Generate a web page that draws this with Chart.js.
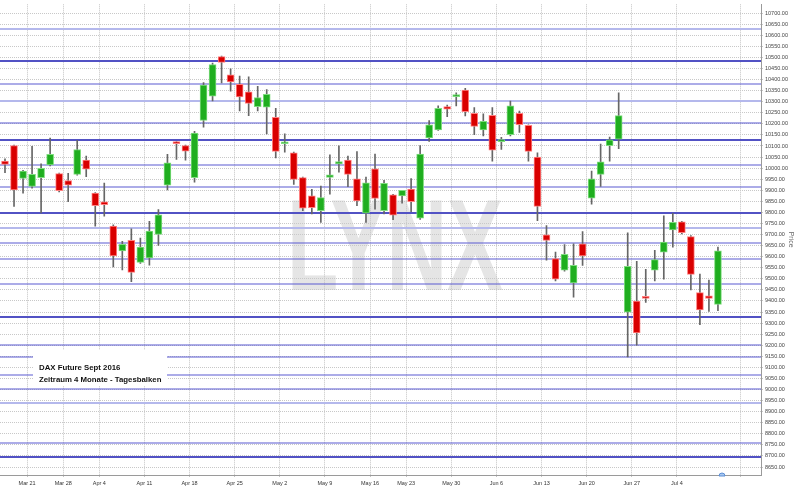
<!DOCTYPE html>
<html>
<head>
<meta charset="utf-8">
<script src="https://cdn.jsdelivr.net/npm/chart.js@4.4.1/dist/chart.umd.min.js"></script>
<style>
    body { margin: 0; background: #fff; }
    #wrap { width: 800px; height: 486px; }
</style>
</head>
<body>
<div id="wrap"><canvas id="daxChart" width="800" height="486"></canvas></div>
<script>
// DAX Future Sept 2016, daily bars, Mar 16 - Jul 8 2016
const open  = [10032, 10102, 9953, 9917, 9957, 10015, 9975, 9944, 9972, 10036,
               9887, 9848, 9738, 9626, 9674, 9574, 9595, 9701, 9923, 10118,
               10102, 9957, 10215, 10325, 10504, 10422, 10379, 10345, 10278, 10275,
               10230, 10110, 10069, 9957, 9875, 9808, 9958, 10019, 10036, 9952,
               9797, 9997, 9808, 9879, 9875, 9905, 9774, 10136, 10173, 10278,
               10323, 10352, 10248, 10173, 10238, 10120, 10151, 10248, 10193, 10050,
               9699, 9591, 9539, 9482, 9658, 9864, 9972, 10102, 10131, 9349,
               9400, 9418, 9539, 9621, 9721, 9758, 9691, 9438, 9423, 9385];
const high  = [10042, 10104, 9990, 10099, 10020, 10136, 9978, 9977, 10126, 10054,
               9890, 9932, 9744, 9669, 9726, 9684, 9760, 9813, 10062, 10120,
               10104, 10166, 10386, 10474, 10506, 10449, 10416, 10412, 10370, 10355,
               10270, 10155, 10072, 9960, 9904, 9919, 10060, 10101, 10054, 10075,
               9960, 10064, 9945, 9882, 9900, 9953, 10102, 10215, 10281, 10285,
               10340, 10360, 10273, 10245, 10273, 10139, 10303, 10258, 10196, 10069,
               9740, 9621, 9655, 9658, 9714, 9987, 10109, 10140, 10340, 9708,
               9579, 9543, 9629, 9785, 9796, 9760, 9695, 9521, 9494, 9644];
const low   = [9980, 9827, 9887, 9910, 9798, 10010, 9893, 9848, 9968, 9962,
               9738, 9783, 9554, 9540, 9487, 9570, 9562, 9651, 9902, 10039,
               10036, 9937, 10185, 10304, 10385, 10348, 10258, 10237, 10258, 10155,
               10046, 10072, 9927, 9808, 9793, 9755, 9882, 9982, 9916, 9830,
               9755, 9815, 9793, 9767, 9842, 9803, 9768, 10121, 10170, 10233,
               10281, 10236, 10151, 10146, 10032, 10084, 10146, 10161, 10032, 9763,
               9584, 9491, 9535, 9417, 9561, 9837, 9917, 10031, 10088, 9147,
               9200, 9394, 9491, 9499, 9643, 9703, 9450, 9293, 9353, 9356];
const close = [10017, 9902, 9987, 9972, 9999, 10062, 9898, 9923, 10084, 9995,
               9830, 9835, 9604, 9656, 9529, 9644, 9716, 9789, 10024, 10111,
               10077, 10158, 10375, 10468, 10477, 10389, 10322, 10292, 10319, 10333,
               10076, 10116, 9949, 9819, 9822, 9867, 9970, 10030, 9972, 9852,
               9934, 9863, 9931, 9788, 9900, 9848, 10064, 10196, 10270, 10266,
               10330, 10255, 10188, 10211, 10081, 10124, 10281, 10196, 10076, 9827,
               9673, 9499, 9611, 9561, 9603, 9952, 10028, 10128, 10237, 9557,
               9256, 9412, 9587, 9666, 9755, 9708, 9520, 9360, 9412, 9626];

// first trading day of each week (bar index) and its label
const weekStart  = [3, 7, 11, 16, 21, 26, 31, 36, 41, 45, 50, 55, 60, 65, 70, 75, 82];
const weekLabels = ['Mar 21', 'Mar 28', 'Apr 4', 'Apr 11', 'Apr 18', 'Apr 25', 'May 2', 'May 9',
                    'May 16', 'May 23', 'May 30', 'Jun 6', 'Jun 13', 'Jun 20', 'Jun 27', 'Jul 4', ''];

// price axis
const priceMin = 8614, priceMax = 10740;
const priceTickFirst = 8650, priceTickLast = 10700, priceTickStep = 50;

// horizontal support / resistance lines
const levelsStrong = [10485, 10127, 9796, 9326, 8695];
const levelsNormal = [10378, 10203, 10015, 9917, 9662, 9590, 9478, 9200, 9147, 9066, 9004, 8757];
const levelsLight  = [10628, 10302, 9729, 8937];

const bodies = open.map((o, i) => ({ x: i, y: [o, close[i]] }));
const wicks = low.map((l, i) => ({ x: i, y: [l, high[i]] }));
const up = open.map((o, i) => close[i] >= o);

const bgPlugin = {
    id: 'bg',
    beforeDraw(chart) {
        const ctx = chart.ctx;
        ctx.save();
        ctx.fillStyle = '#fff';
        ctx.fillRect(0, 0, chart.width, chart.height);
        // LYNX watermark
        ctx.fillStyle = '#e5e5e5';
        ctx.font = 'bold 130px "Liberation Sans", Arial, sans-serif';
        const w = ctx.measureText('LYNX').width;
        ctx.translate(287, 290);
        ctx.scale(216 / w, 1);
        ctx.textBaseline = 'alphabetic';
        ctx.fillText('LYNX', 0, 0);
        ctx.restore();
    }
};

const levelPlugin = {
    id: 'levels',
    beforeDatasetsDraw(chart) {
        const ctx = chart.ctx;
        const area = chart.chartArea;
        const y = chart.scales.y;
        const drawSet = (list, color, width) => {
            ctx.strokeStyle = color;
            ctx.lineWidth = width;
            list.forEach(v => {
                const py = Math.round(y.getPixelForValue(v));
                ctx.beginPath();
                ctx.moveTo(area.left, py);
                ctx.lineTo(area.right, py);
                ctx.stroke();
            });
        };
        ctx.save();
        drawSet(levelsLight, '#b4b8ec', 2);
        drawSet(levelsNormal, '#5a5ad2', 1.2);
        drawSet(levelsStrong, '#5252c4', 2);
        ctx.restore();
    },
    afterDatasetsDraw(chart) {
        const ctx = chart.ctx;
        ctx.save();
        // info box
        ctx.fillStyle = '#fff';
        ctx.fillRect(33, 350, 134, 36);
        ctx.fillStyle = '#111';
        ctx.font = 'bold 7.8px "Liberation Sans", Arial, sans-serif';
        ctx.textBaseline = 'alphabetic';
        ctx.fillText('DAX Future Sept 2016', 39, 369.5);
        ctx.fillText('Zeitraum 4 Monate - Tagesbalken', 39, 381.5);
        // small marker icon
        ctx.beginPath();
        ctx.arc(722, 476, 3, Math.PI, 0);
        ctx.closePath();
        ctx.fillStyle = '#a9c8ef';
        ctx.fill();
        ctx.strokeStyle = '#5d8fd6';
        ctx.lineWidth = 1;
        ctx.stroke();
        ctx.restore();
    }
};

document.addEventListener('DOMContentLoaded', () => {
    const ctx = document.getElementById('daxChart').getContext('2d');
    new Chart(ctx, {
        type: 'bar',
        data: {
            datasets: [{
                label: 'Body',
                data: bodies,
                grouped: false,
                barThickness: 7,
                minBarLength: 2,
                borderWidth: 1,
                borderSkipped: false,
                backgroundColor: up.map(u => u ? '#1fae1f' : '#d90000'),
                borderColor: up.map(u => u ? '#7fdc7f' : '#ff8080')
            }, {
                label: 'Wick',
                data: wicks,
                grouped: false,
                barThickness: 1,
                backgroundColor: '#666666',
                borderWidth: 0
            }]
        },
        options: {
            responsive: false,
            animation: false,
            devicePixelRatio: 1,
            layout: { padding: 0 },
            plugins: {
                legend: { display: false },
                tooltip: { enabled: false }
            },
            scales: {
                x: {
                    type: 'linear',
                    offset: false,
                    min: -0.554,
                    max: 83.77,
                    afterBuildTicks: scale => {
                        scale.ticks = weekStart.map(v => ({ value: v - 0.55 }));
                    },
                    afterFit: scale => { scale.height = 11; },
                    ticks: {
                        autoSkip: false,
                        maxRotation: 0,
                        padding: 2,
                        color: '#333',
                        font: { size: 5.5, family: '"Liberation Sans", Arial, sans-serif' },
                        callback: (value, index) => weekLabels[index]
                    },
                    grid: { offset: false, color: '#c4c4c4', tickLength: 3, tickBorderDash: [1, 1] },
                    border: { color: '#9a9a9a', dash: [1, 1] }
                },
                y: {
                    type: 'linear',
                    position: 'right',
                    min: priceMin,
                    max: priceMax,
                    afterBuildTicks: scale => {
                        const t = [];
                        for (let v = priceTickFirst; v <= priceTickLast; v += priceTickStep) t.push({ value: v });
                        scale.ticks = t;
                    },
                    afterFit: scale => { scale.width = 39; },
                    ticks: {
                        autoSkip: false,
                        padding: 1,
                        color: '#444',
                        font: { size: 5.5, family: '"Liberation Sans", Arial, sans-serif' },
                        callback: value => value.toFixed(2)
                    },
                    grid: { color: '#c8c8c8', tickLength: 3, tickBorderDash: [1, 1] },
                    border: { color: '#9a9a9a', dash: [1, 1] },
                    title: {
                        display: true,
                        text: 'Price',
                        color: '#666',
                        padding: { top: 5 },
                        font: { size: 7, family: '"Liberation Sans", Arial, sans-serif' }
                    }
                }
            }
        },
        plugins: [bgPlugin, levelPlugin]
    });
});
</script>
</body>
</html>
